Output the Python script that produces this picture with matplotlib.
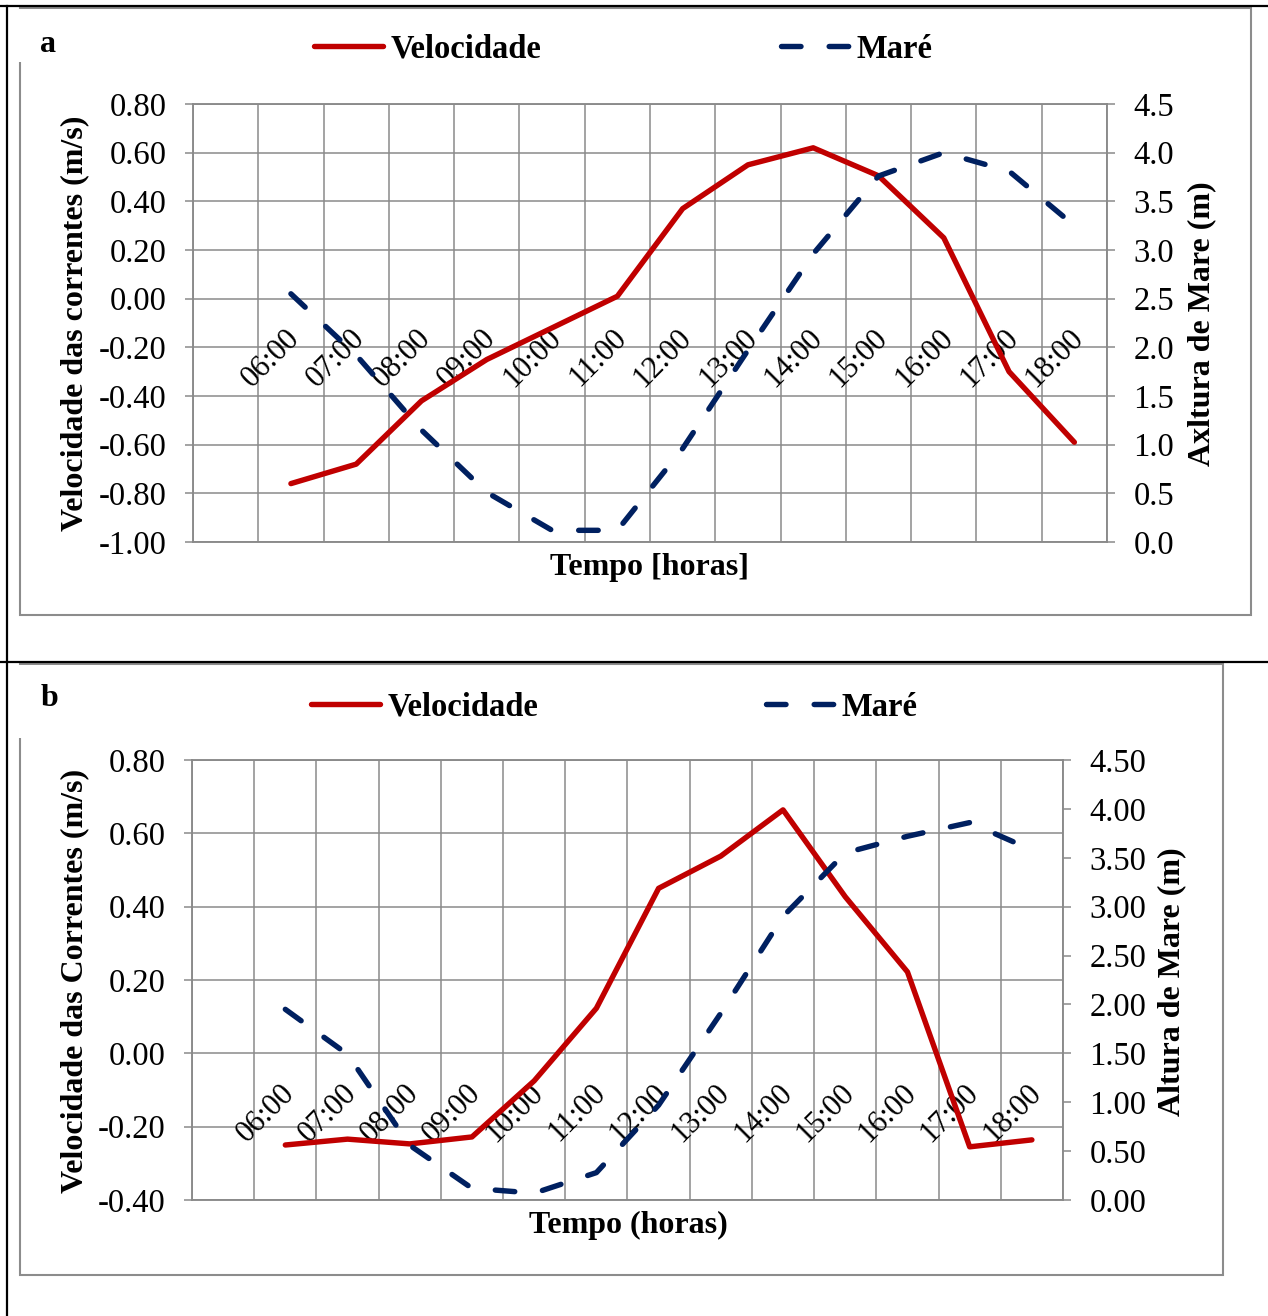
import numpy as np
import matplotlib
matplotlib.use("Agg")
from matplotlib import pyplot as plt
from matplotlib.lines import Line2D
from matplotlib.patches import Rectangle

plt.rcParams['font.family'] = ['Liberation Serif', 'DejaVu Serif']

horas = ["06:00", "07:00", "08:00", "09:00", "10:00", "11:00", "12:00",
         "13:00", "14:00", "15:00", "16:00", "17:00", "18:00"]

# painel a
vel_a = [-0.76, -0.68, -0.42, -0.25, -0.12, 0.01, 0.37, 0.55, 0.62, 0.505, 0.25, -0.30, -0.59]
mare_a = [2.55, 1.92, 1.15, 0.51, 0.12, 0.12, 0.96, 1.97, 2.96, 3.76, 4.00, 3.81, 3.25]
vel_ticks_a = [-1.0, -0.8, -0.6, -0.4, -0.2, 0.0, 0.2, 0.4, 0.6, 0.8]
vel_labels_a = ["-1.00", "-0.80", "-0.60", "-0.40", "-0.20", "0.00", "0.20", "0.40", "0.60", "0.80"]
mare_ticks_a = [0.0, 0.5, 1.0, 1.5, 2.0, 2.5, 3.0, 3.5, 4.0, 4.5]
mare_labels_a = ["0.0", "0.5", "1.0", "1.5", "2.0", "2.5", "3.0", "3.5", "4.0", "4.5"]

# painel b
vel_b = [-0.25, -0.234, -0.247, -0.228, -0.075, 0.123, 0.45, 0.538, 0.664, 0.427, 0.222, -0.255, -0.236]
mare_b = [1.95, 1.49, 0.56, 0.12, 0.07, 0.28, 0.97, 1.91, 2.90, 3.55, 3.72, 3.86, 3.58]
vel_ticks_b = [-0.4, -0.2, 0.0, 0.2, 0.4, 0.6, 0.8]
vel_labels_b = ["-0.40", "-0.20", "0.00", "0.20", "0.40", "0.60", "0.80"]
mare_ticks_b = [0.0, 0.5, 1.0, 1.5, 2.0, 2.5, 3.0, 3.5, 4.0, 4.5]
mare_labels_b = ["0.00", "0.50", "1.00", "1.50", "2.00", "2.50", "3.00", "3.50", "4.00", "4.50"]

W, H = 1268, 1316
RED = '#c00000'
NAVY = '#002060'
GRID = '#8a8a8a'
BOX = '#8c8c8c'


def fx(x):
    return x / W


def fy(y):
    return 1 - y / H


def panel(fig, rect_px, vel, mare, vt, vl, mt, ml, letter, letter_xy,
          leg_y, leg_x1, leg_x2, ylab_l, ylab_l_xy, ylab_r, ylab_r_xy, xlab, xlab_xy):
    l, t, r, b = rect_px
    ax = fig.add_axes([fx(l), fy(b), (r - l) / W, (b - t) / H])
    x = np.arange(len(horas))
    ax.set_xlim(-1.5, len(horas) - 0.5)
    ax.set_xticks(np.arange(-1.5, len(horas) - 0.4, 1.0))
    ax.set_xticklabels([])
    ax.tick_params(axis='x', length=0)
    ax.set_ylim(vt[0], vt[-1])
    ax.set_yticks(vt)
    ax.set_yticklabels(vl)
    ax.tick_params(axis='y', direction='out', length=6, width=1.1, color=GRID,
                   labelsize=23.5, pad=13)
    ax.grid(True, color=GRID, lw=1.1)
    ax.set_axisbelow(True)
    for s in ax.spines.values():
        s.set_color(GRID)
        s.set_linewidth(1.1)

    for i, lbl in enumerate(horas):
        ax.annotate(lbl, xy=(i, 0), xytext=(-4, -18), textcoords='offset points',
                    rotation=45, ha='right', va='top', rotation_mode='anchor',
                    fontsize=22, zorder=2, annotation_clip=False)

    lv, = ax.plot(x, vel, color=RED, lw=3.9, solid_capstyle='round',
                  solid_joinstyle='round', zorder=3)

    ax2 = ax.twinx()
    ax2.set_ylim(mt[0], mt[-1])
    ax2.set_yticks(mt)
    ax2.set_yticklabels(ml)
    ax2.tick_params(axis='y', direction='out', length=6, width=1.1, color=GRID,
                    labelsize=23.5, pad=13)
    for s in ax2.spines.values():
        s.set_color(GRID)
        s.set_linewidth(1.1)
    lm, = ax2.plot(x, mare, color=NAVY, lw=3.9, dashes=(3.6, 5.2),
                   dash_capstyle='round', zorder=3)

    bold = dict(fontsize=23, fontweight='bold')
    fig.text(fx(letter_xy[0]), fy(letter_xy[1]), letter, ha='left', va='baseline', **bold)
    fig.text(fx(ylab_l_xy[0]), fy(ylab_l_xy[1]), ylab_l, rotation=90,
             ha='center', va='center', **bold)
    fig.text(fx(ylab_r_xy[0]), fy(ylab_r_xy[1]), ylab_r, rotation=90,
             ha='center', va='center', **bold)
    fig.text(fx(xlab_xy[0]), fy(xlab_xy[1]), xlab, ha='center', va='center', **bold)

    prop = dict(size=23.5, weight='bold')
    leg1 = ax2.legend([lv], ["Velocidade"], loc='center left',
                      bbox_to_anchor=(fx(leg_x1), fy(leg_y)), bbox_transform=fig.transFigure,
                      frameon=False, prop=prop, handlelength=2.1, handletextpad=0.25,
                      borderpad=0, borderaxespad=0)
    ax2.add_artist(leg1)
    ax2.legend([lm], ["Maré"], loc='center left',
               bbox_to_anchor=(fx(leg_x2), fy(leg_y)), bbox_transform=fig.transFigure,
               frameon=False, prop=prop, handlelength=2.1, handletextpad=0.2,
               borderpad=0, borderaxespad=0)
    return ax, ax2


fig = plt.figure(figsize=(W / 100, H / 100), dpi=100)

# caixas dos graficos
fig.add_artist(Rectangle((fx(20), fy(615)), fx(1251) - fx(20), fy(8) - fy(615),
                         transform=fig.transFigure, fill=False, edgecolor=BOX, lw=1.5))
fig.add_artist(Rectangle((fx(20), fy(1275)), fx(1223) - fx(20), fy(664) - fy(1275),
                         transform=fig.transFigure, fill=False, edgecolor=BOX, lw=1.5))
fig.add_artist(Rectangle((fx(18), fy(62)), fx(118) - fx(18), fy(9) - fy(62),
                         transform=fig.transFigure, facecolor='white', edgecolor='none'))
fig.add_artist(Rectangle((fx(18), fy(738)), fx(100) - fx(18), fy(665) - fy(738),
                         transform=fig.transFigure, facecolor='white', edgecolor='none'))

# moldura da tabela
for xs, ys in [((0, W), (6, 6)), ((0, W), (662, 662)), ((7, 7), (6, H))]:
    fig.add_artist(Line2D([fx(xs[0]), fx(xs[1])], [fy(ys[0]), fy(ys[1])],
                          transform=fig.transFigure, color='black', lw=1.6))

panel(fig, (193, 104, 1107, 542), vel_a, mare_a, vel_ticks_a, vel_labels_a,
      mare_ticks_a, mare_labels_a, "a", (40, 52), 49, 314, 781,
      "Velocidade das correntes (m/s)", (75, 323),
      "Axltura de Mare (m)", (1202, 324), "Tempo [horas]", (650, 567))

panel(fig, (192, 760, 1063, 1200), vel_b, mare_b, vel_ticks_b, vel_labels_b,
      mare_ticks_b, mare_labels_b, "b", (41, 706), 707, 311, 766,
      "Velocidade das Correntes (m/s)", (75, 981),
      "Altura de Mare (m)", (1172, 982), "Tempo (horas)", (628, 1225))

fig.savefig("out.png", dpi=100)
